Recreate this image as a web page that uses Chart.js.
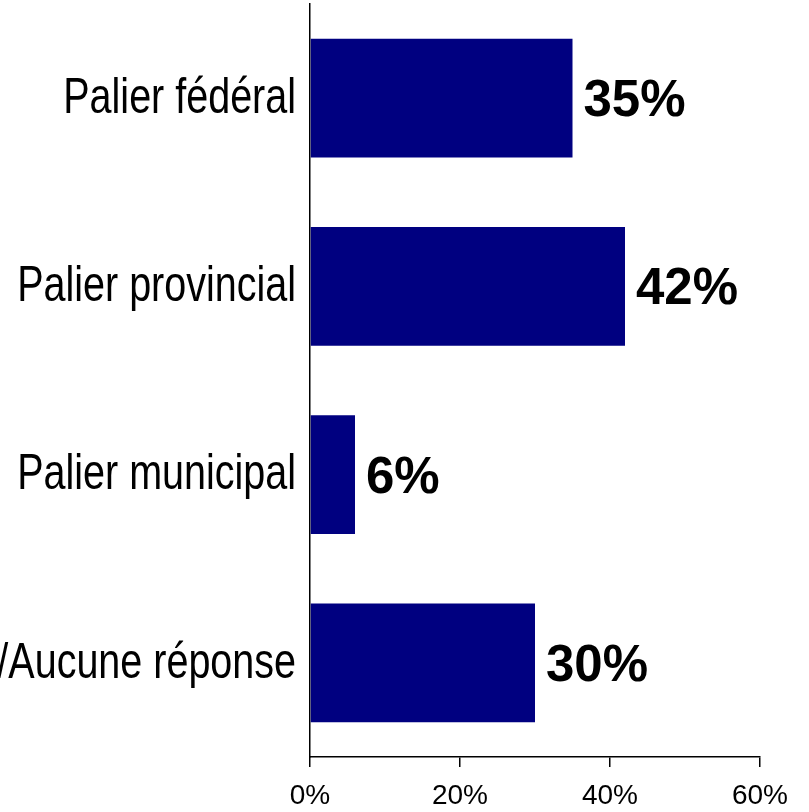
<!DOCTYPE html>
<html>
<head>
<meta charset="utf-8">
<script src="https://cdn.jsdelivr.net/npm/chart.js@4/dist/chart.umd.min.js"></script>
<style>
  html, body { margin: 0; padding: 0; background: #fff; overflow: hidden; }
  #wrap { width: 809px; height: 812px; position: relative; }
</style>
</head>
<body>
<div id="wrap"><canvas id="paliers"></canvas></div>
<script>
const labelPalier = ["Palier fédéral", "Palier provincial", "Palier municipal", "NSP/Aucune réponse"]
const pourcent = [35, 42, 6, 30]
const tickValues = [0, 20, 40, 60]

const barColor = "rgb(0, 0, 128)"

// value labels next to the bars + narrow category labels (no Arial Narrow here, so squeeze)
const textLayer = {
    id: "textLayer",
    afterDraw(chart) {
        const ctx = chart.ctx
        const meta = chart.getDatasetMeta(0)
        const yAxis = chart.scales.y

        ctx.save()
        ctx.fillStyle = "#000"

        ctx.font = "bold 51px 'Liberation Sans', Arial, sans-serif"
        ctx.textAlign = "left"
        ctx.textBaseline = "alphabetic"
        meta.data.forEach(function (bar, i) {
            ctx.fillText(pourcent[i] + "%", bar.x + 11, bar.y + 18)
        })

        ctx.font = "50px 'Liberation Sans', Arial, sans-serif"
        ctx.textAlign = "right"
        ctx.textBaseline = "middle"
        labelPalier.forEach(function (lab, i) {
            ctx.save()
            ctx.translate(yAxis.right - 14, yAxis.getPixelForTick(i) + 1)
            ctx.scale(0.79, 1)
            ctx.fillText(lab, 0, 0)
            ctx.restore()
        })
        ctx.restore()
    }
}

new Chart("paliers", {
    type: "bar",
    data: {
        labels: labelPalier,
        datasets: [{
            data: pourcent,
            backgroundColor: barColor,
            borderColor: barColor,
            borderWidth: 0,
            categoryPercentage: 0.63,
            barPercentage: 1
        }]
    },
    options: {
        indexAxis: "y",
        responsive: true,
        maintainAspectRatio: false,
        animation: false,
        layout: { padding: { top: 4, right: 49, left: 0, bottom: 0 } },
        plugins: {
            legend: { display: false },
            tooltip: { enabled: false }
        },
        scales: {
            x: {
                min: 0,
                max: 60,
                afterBuildTicks(axis) {
                    axis.ticks = tickValues.map(v => ({ value: v }))
                },
                afterFit(axis) { axis.height = 55 },
                grid: {
                    drawOnChartArea: false,
                    drawTicks: true,
                    tickLength: 10,
                    color: "#000",
                    lineWidth: 1.5
                },
                border: { display: true, color: "#000", width: 1.5 },
                ticks: {
                    padding: 12,
                    maxRotation: 0,
                    color: "#000",
                    font: { family: "'Liberation Sans', Arial, sans-serif", size: 28 },
                    callback: v => v + "%"
                }
            },
            y: {
                afterFit(axis) {
                    axis.width = 310
                    axis.paddingTop = 0
                    axis.paddingBottom = 0
                },
                grid: { display: false, drawTicks: false },
                border: { display: true, color: "#000", width: 1.5 },
                ticks: { display: false }
            }
        }
    },
    plugins: [textLayer]
})
</script>
</body>
</html>
